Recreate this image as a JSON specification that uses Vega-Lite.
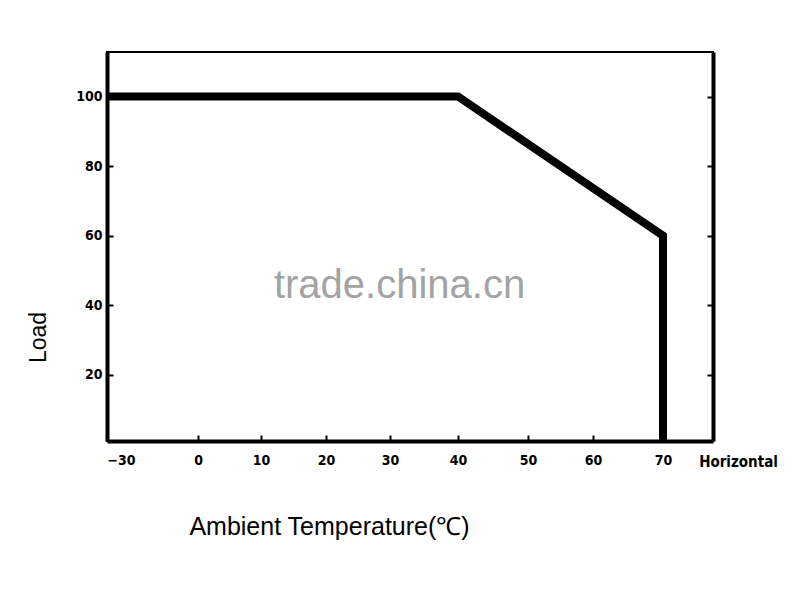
{
  "$schema": "https://vega.github.io/schema/vega-lite/v6.json",
  "width": 606,
  "height": 389,
  "autosize": "none",
  "padding": {"left": 107, "top": 52, "right": 87, "bottom": 155},
  "background": "white",
  "config": {
    "view": {"stroke": "black", "strokeWidth": 2},
    "axis": {
      "grid": false,
      "domainColor": "black",
      "domainWidth": 4,
      "tickColor": "black",
      "tickWidth": 2,
      "tickSize": -6,
      "labelColor": "black",
      "labelFont": "DejaVu Sans Condensed, sans-serif",
      "labelFontWeight": "bold",
      "labelFontSize": 14,
      "titleColor": "black",
      "titleFont": "Liberation Sans, sans-serif",
      "titleFontWeight": "normal"
    }
  },
  "datasets": {
    "curve": [
      {"temp": -30, "load": 100, "k": 1},
      {"temp": 40, "load": 100, "k": 2},
      {"temp": 70, "load": 60, "k": 3},
      {"temp": 70, "load": 0, "k": 4}
    ],
    "stamp": [
      {"temp": 31.4, "load": 45.5, "label": "trade.china.cn"}
    ]
  },
  "layer": [
    {
      "data": {"name": "curve"},
      "mark": {"type": "line", "color": "black", "strokeWidth": 8, "strokeJoin": "miter", "strokeCap": "butt", "clip": true},
      "encoding": {
        "x": {
          "field": "temp", "type": "quantitative",
          "scale": {"domain": [-30, 0, 10, 20, 30, 40, 50, 60, 70, 77.4], "range": [0, 91, 154, 219, 283, 351, 421, 486, 556, 606], "zero": false, "nice": false},
          "axis": {
            "orient": "bottom",
            "values": [-30, 0, 10, 20, 30, 40, 50, 60, 70],
            "labelPadding": 18,
            "title": "Ambient Temperature(℃)",
            "titleFontSize": 25,
            "titleX": 222,
            "titleY": 85,
            "titleAlign": "center",
            "titleBaseline": "middle"
          }
        },
        "y": {
          "field": "load", "type": "quantitative",
          "scale": {"domain": [0.95, 112.8], "zero": false, "nice": false},
          "axis": {
            "orient": "left",
            "values": [20, 40, 60, 80, 100],
            "labelPadding": 11,
            "title": "Load",
            "titleFontSize": 23,
            "titleX": -69,
            "titleY": 285,
            "titleAngle": -90,
            "titleAlign": "center",
            "titleBaseline": "middle"
          }
        },
        "order": {"field": "k", "type": "quantitative"}
      }
    },
    {
      "data": {"name": "stamp"},
      "mark": {"type": "text", "font": "Liberation Sans, sans-serif", "fontSize": 40, "color": "#a3a3a3", "align": "center", "baseline": "middle"},
      "encoding": {
        "x": {
          "field": "temp", "type": "quantitative",
          "scale": {"domain": [-30, 0, 10, 20, 30, 40, 50, 60, 70, 77.4], "range": [0, 91, 154, 219, 283, 351, 421, 486, 556, 606], "zero": false, "nice": false},
          "axis": {
            "orient": "top",
            "domain": false,
            "ticks": false,
            "labels": false,
            "title": "Horizontal",
            "titleFont": "DejaVu Sans Condensed, sans-serif",
            "titleFontWeight": "bold",
            "titleFontSize": 15,
            "titleX": 631,
            "titleY": 409,
            "titleAngle": 0,
            "titleAlign": "center",
            "titleBaseline": "middle"
          }
        },
        "y": {
          "field": "load", "type": "quantitative",
          "scale": {"domain": [0.95, 112.8], "zero": false, "nice": false},
          "axis": {
            "orient": "right",
            "values": [20, 40, 60, 80, 100],
            "labels": false,
            "title": null
          }
        },
        "text": {"field": "label", "type": "nominal"}
      }
    }
  ],
  "resolve": {"axis": {"x": "independent", "y": "independent"}}
}
